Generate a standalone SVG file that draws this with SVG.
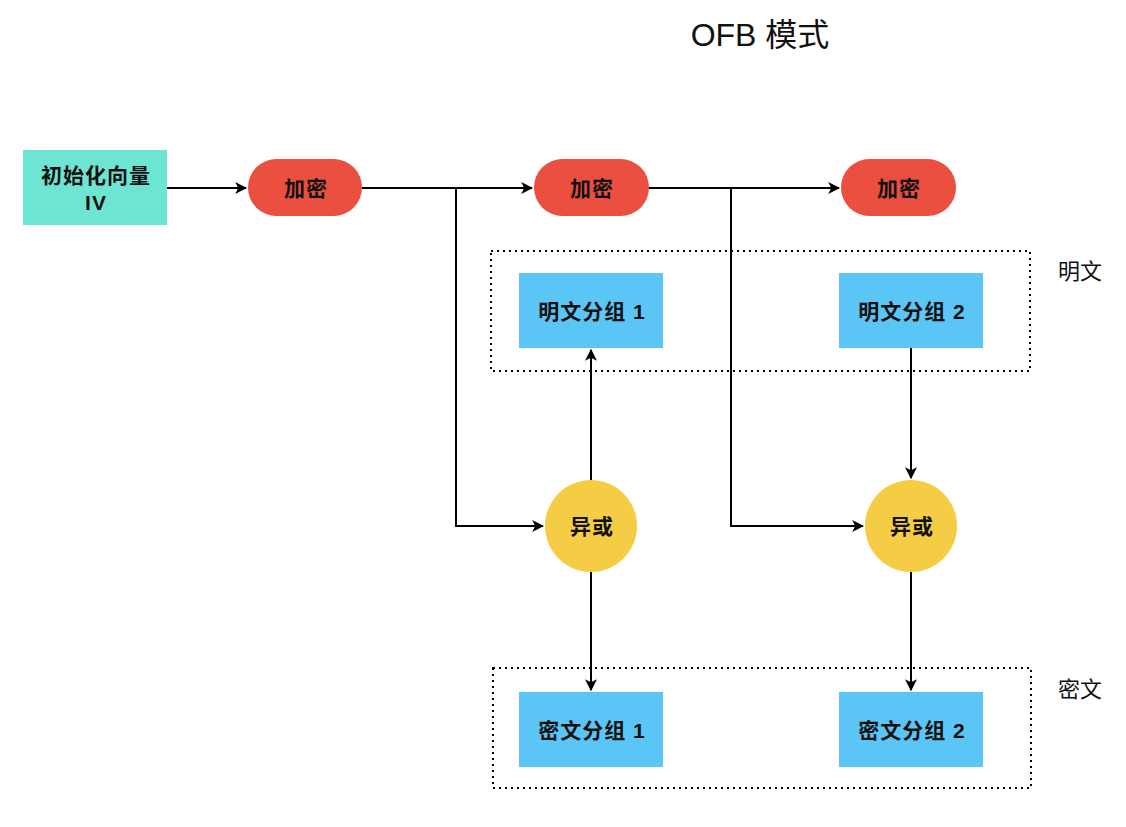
<svg xmlns="http://www.w3.org/2000/svg" width="1126" height="827" viewBox="0 0 1126 827">
<defs>
<style>
.t{font-family:"Liberation Sans","Noto Sans CJK SC",sans-serif;font-size:21px;letter-spacing:1px;font-weight:bold;fill:#111;text-anchor:middle;dominant-baseline:central}
.lbl{font-family:"Liberation Sans","Noto Sans CJK SC",sans-serif;font-size:22px;fill:#111;dominant-baseline:central}
.c{fill:none;stroke:#000;stroke-width:2}
.dot{fill:none;stroke:#000;stroke-width:2;stroke-dasharray:2 4}
.enc{fill:#ea4f3f}
.blk{fill:#5bc5f6}
.xor{fill:#f5cd45}
</style>
<marker id="ah" viewBox="0 0 10 10" refX="9" refY="5" markerWidth="12" markerHeight="12" markerUnits="userSpaceOnUse" orient="auto">
<path d="M0,0 L10,5 L0,10 L2.5,5 z" fill="#000"/>
</marker>
</defs>
<rect width="1126" height="827" fill="#fff"/>
<text x="760" y="35" font-family="Liberation Sans,Noto Sans CJK SC,sans-serif" font-size="32" text-anchor="middle" dominant-baseline="central" fill="#111">OFB 模式</text>
<g id="group-plain">
<rect class="dot" x="491" y="251" width="539" height="120"/>
<text class="lbl" x="1058" y="271">明文</text>
</g>
<g id="group-cipher">
<rect class="dot" x="493" y="668" width="538" height="120"/>
<text class="lbl" x="1058" y="689">密文</text>
</g>
<g id="connectors">
<path class="c" d="M167,188 H246" marker-end="url(#ah)"/>
<path class="c" d="M362,188 H532" marker-end="url(#ah)"/>
<path class="c" d="M456,188 V526 H543" marker-end="url(#ah)"/>
<path class="c" d="M649,188 H839" marker-end="url(#ah)"/>
<path class="c" d="M731,188 V526 H863" marker-end="url(#ah)"/>
<path class="c" d="M591,480 V350" marker-end="url(#ah)"/>
<path class="c" d="M911,348 V478" marker-end="url(#ah)"/>
<path class="c" d="M591,572 V690" marker-end="url(#ah)"/>
<path class="c" d="M911,572 V690" marker-end="url(#ah)"/>
</g>
<g id="iv">
<rect x="23" y="150" width="144" height="75" fill="#6ee5d2"/>
<text class="t" x="96" y="175">初始化向量</text>
<text class="t" x="96" y="202">IV</text>
</g>
<g id="enc1"><rect class="enc" x="248" y="159" width="114" height="57" rx="28.5"/><text class="t" x="306" y="188">加密</text></g>
<g id="enc2"><rect class="enc" x="534" y="159" width="115" height="57" rx="28.5"/><text class="t" x="592" y="188">加密</text></g>
<g id="enc3"><rect class="enc" x="841" y="159" width="115" height="57" rx="28.5"/><text class="t" x="899" y="188">加密</text></g>
<g id="p1"><rect class="blk" x="519" y="273" width="144" height="75"/><text class="t" x="592" y="311">明文分组 1</text></g>
<g id="p2"><rect class="blk" x="839" y="273" width="144" height="75"/><text class="t" x="912" y="311">明文分组 2</text></g>
<g id="x1"><circle class="xor" cx="591" cy="526" r="46"/><text class="t" x="592" y="526">异或</text></g>
<g id="x2"><circle class="xor" cx="911" cy="526" r="46"/><text class="t" x="912" y="526">异或</text></g>
<g id="c1"><rect class="blk" x="519" y="692" width="144" height="75"/><text class="t" x="592" y="730">密文分组 1</text></g>
<g id="c2"><rect class="blk" x="839" y="692" width="144" height="75"/><text class="t" x="912" y="730">密文分组 2</text></g>
</svg>
